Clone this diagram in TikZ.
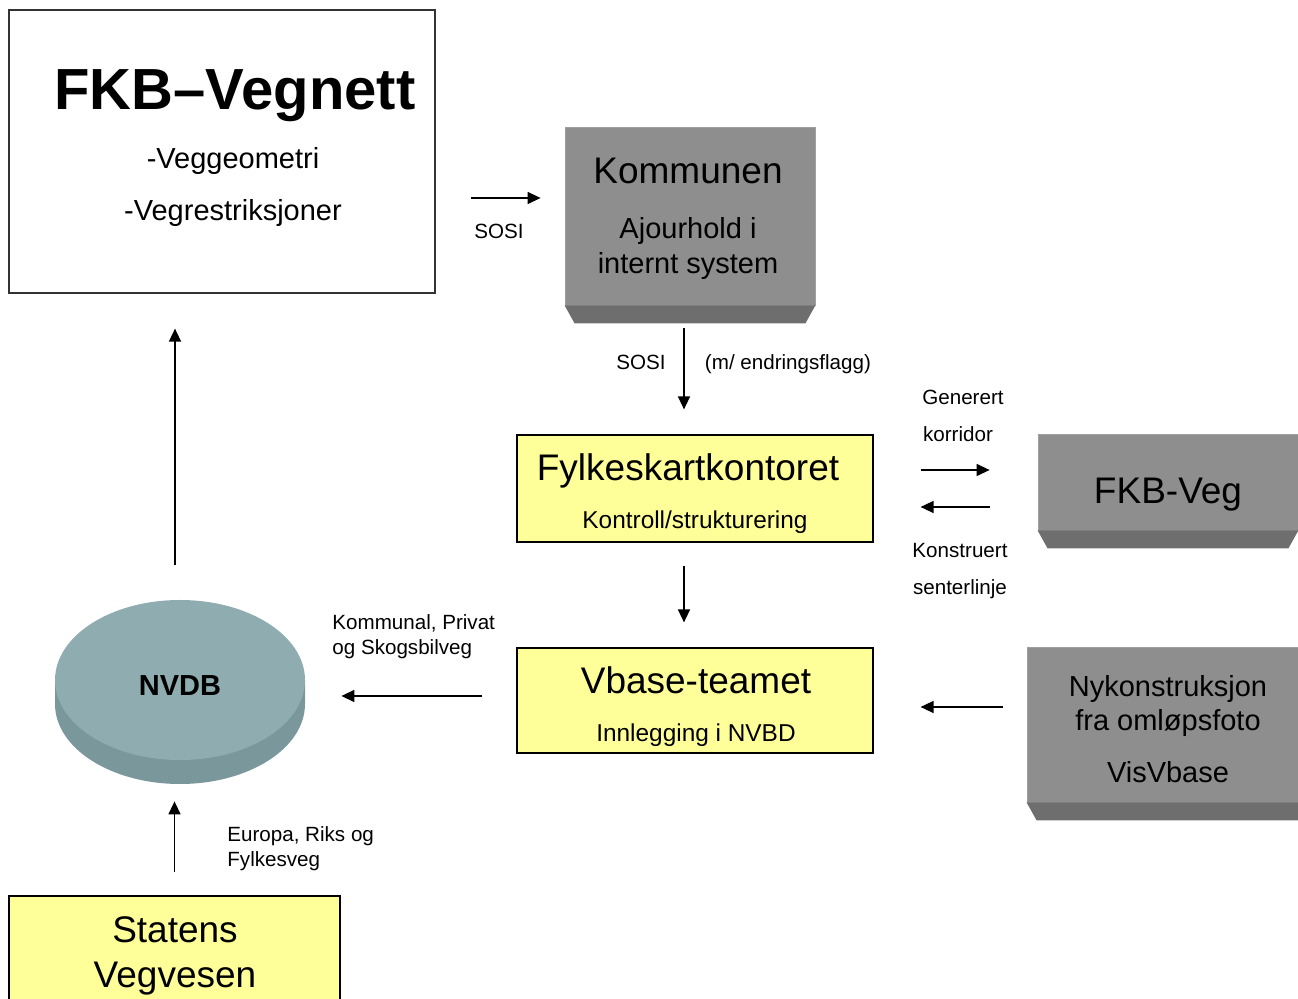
\documentclass[tikz,border=0pt]{standalone}
\usepackage{fontspec}
\setmainfont{Liberation Sans}
\usetikzlibrary{arrows.meta}
\definecolor{facegray}{HTML}{8E8E8E}
\definecolor{bevelgray}{HTML}{6E6E6E}
\definecolor{boxyellow}{HTML}{FFFF99}
\definecolor{dbtop}{HTML}{8FADB0}
\definecolor{dbside}{HTML}{7A989B}
\def\bevel#1{\fill[bevelgray] (#1.south west) -- (#1.south east) -- ([shift={(-5pt,-9pt)}]#1.south east) -- ([shift={(5pt,-9pt)}]#1.south west) -- cycle;}

\begin{document}
\begin{tikzpicture}[x=0.5pt, y=-0.5pt,
  big/.style={font=\fontsize{18.5}{22}\selectfont},
  mid/.style={font=\fontsize{14.5}{17}\selectfont},
  sml/.style={font=\fontsize{12.2}{14}\selectfont},
  lbl/.style={font=\fontsize{10.3}{12}\selectfont},
  txt/.style={anchor=base, inner sep=0pt},
  whitebox/.style={draw=black!80, fill=white, line width=0.6pt, inner sep=0pt},
  yellowbox/.style={draw=black, fill=boxyellow, line width=0.6pt, inner sep=0pt},
  graybox/.style={fill=facegray, draw=gray!75, line width=0.4pt, inner sep=0pt},
  arr/.style={-{Triangle[length=6.5pt,width=6pt]}, line width=0.7pt}]
        \clip (0,0) rectangle (1298,999);
        % boxes
        \node[whitebox, minimum width=213pt, minimum height=141.5pt] (fkbn) at (222,151.5) {};
        \node[graybox, minimum width=125pt, minimum height=89pt] (kom) at (690,216) {};
        \bevel{kom}
        \node[yellowbox, minimum width=178pt, minimum height=53.5pt] (fylk) at (695,488.5) {};
        \node[graybox, minimum width=130pt, minimum height=48pt] (fkbveg) at (1168,482) {};
        \bevel{fkbveg}
        \node[yellowbox, minimum width=178pt, minimum height=52.5pt] (vbase) at (695,700.5) {};
        \node[graybox, minimum width=141pt, minimum height=77.5pt] (nyk) at (1168,724.5) {};
        \bevel{nyk}
        \node[yellowbox, minimum width=165.5pt, minimum height=57pt] (statens) at (174.5,953) {};
        % database
        \fill[dbside] (55,680) -- (55,704) arc[start angle=180, end angle=360, x radius=62.5pt, y radius=40pt] -- (305,680) -- cycle;
        \fill[dbtop] (180,680) ellipse [x radius=62.5pt, y radius=40pt];
        \node[minimum width=125pt, minimum height=92pt, inner sep=0pt] (nvdb) at (180,692) {};
        % texts
        \node[txt, font=\fontsize{29}{34}\selectfont\bfseries] (fkbn-t) at (235,110) {FKB–Vegnett};
        \node[txt, mid] (fkbn-a) at (233,169) {-Veggeometri};
        \node[txt, mid] (fkbn-b) at (233,221) {-Vegrestriksjoner};
        \node[txt, big] (kom-t) at (688,184) {Kommunen};
        \node[txt, mid] (kom-a) at (688,239) {Ajourhold i};
        \node[txt, mid] (kom-b) at (688,274) {internt system};
        \node[txt, big] (fylk-t) at (688,481) {Fylkeskartkontoret};
        \node[txt, sml] (fylk-a) at (695,529) {Kontroll/strukturering};
        \node[txt, big] (fkbveg-t) at (1168,504) {FKB-Veg};
        \node[txt, big] (vbase-t) at (696,694) {Vbase-teamet};
        \node[txt, sml] (vbase-a) at (696,742) {Innlegging i NVBD};
        \node[txt, mid] (nyk-a) at (1168,697) {Nykonstruksjon};
        \node[txt, mid] (nyk-b) at (1168,731) {fra omløpsfoto};
        \node[txt, mid] (nyk-c) at (1168,783) {VisVbase};
        \node[txt, big] (statens-a) at (175,943) {Statens};
        \node[txt, big] (statens-b) at (175,988) {Vegvesen};
        \node[txt, font=\fontsize{14.5}{17}\selectfont\bfseries] (nvdb-t) at (180,696) {NVDB};
        % labels
        \node[txt, lbl] (sosi1) at (499,239) {SOSI};
        \node[txt, lbl] (sosi2) at (641,370) {SOSI};
        \node[txt, lbl] (flagg) at (788,370) {(m/ endringsflagg)};
        \node[txt, lbl] (gen) at (963,405) {Generert};
        \node[txt, lbl] (korr) at (958,442) {korridor};
        \node[txt, lbl] (kons) at (960,558) {Konstruert};
        \node[txt, lbl] (sent) at (960,595) {senterlinje};
        \node[txt, lbl, anchor=base west] (kpo1) at (332,630) {Kommunal, Privat};
        \node[txt, lbl, anchor=base west] (kpo2) at (332,655) {og Skogsbilveg};
        \node[txt, lbl, anchor=base west] (erf1) at (227,842) {Europa, Riks og};
        \node[txt, lbl, anchor=base west] (erf2) at (227,867) {Fylkesveg};
        % arrows
        \coordinate (k1) at ([yshift=9pt]kom.west);
        \draw[arr, shorten <=17.5pt, shorten >=12pt] (k1 -| fkbn.east) -- (k1);
        \coordinate (k2) at ([xshift=-3pt]kom.south);
        \draw[arr, shorten <=11.5pt, shorten >=12.5pt] (k2) -- (k2 |- fylk.north);
        \coordinate (f3) at ([xshift=-5.5pt]fylk.south);
        \draw[arr, shorten <=11.5pt, shorten >=12.5pt] (f3) -- (f3 |- vbase.north);
        \coordinate (f4) at ([yshift=9.25pt]fylk.east);
        \draw[arr, shorten <=23.5pt, shorten >=24pt] (f4) -- (f4 -| fkbveg.west);
        \coordinate (f5) at ([yshift=-9.25pt]fylk.east);
        \draw[arr, shorten <=24pt, shorten >=23.5pt] (f5 -| fkbveg.west) -- (f5);
        \coordinate (v6) at ([yshift=-3.25pt]vbase.east);
        \draw[arr, shorten <=12pt, shorten >=23.5pt] (v6 -| nyk.west) -- (v6);
        \coordinate (v7) at ([yshift=2.25pt]vbase.west);
        \draw[arr, shorten <=17pt, shorten >=18pt] (v7) -- (v7 -| nvdb.east);
        \coordinate (n8) at ([xshift=-2.5pt]nvdb.north);
        \draw[arr, shorten <=17.5pt, shorten >=17.5pt] (n8) -- (n8 |- fkbn.south);
        \draw[arr, shorten <=11.5pt, shorten >=8.5pt] (statens.north) -- (statens.north |- nvdb.south);
\end{tikzpicture}
\end{document}
